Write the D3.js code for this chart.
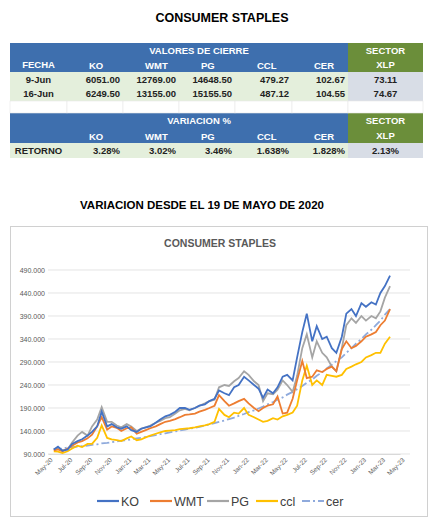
<!DOCTYPE html>
<html>
<head>
<meta charset="utf-8">
<script src="https://cdn.jsdelivr.net/npm/d3@7"></script>
<style>
  body { margin: 0; background: #fff; }
  text { font-family: "Liberation Sans", Arial, sans-serif; }
</style>
</head>
<body>
<div id="chart"></div>
<script>
// table data
const tableCols = ["KO", "WMT", "PG", "CCL", "CER"];
const closeRows = [
  { fecha: "9-Jun", vals: ["6051.00", "12769.00", "14648.50", "479.27", "102.67"], xlp: "73.11" },
  { fecha: "16-Jun", vals: ["6249.50", "13155.00", "15155.50", "487.12", "104.55"], xlp: "74.67" }
];
const retorno = ["3.28%", "3.02%", "3.46%", "1.638%", "1.828%"];
const retornoXlp = "2.13%";

// chart data (values in thousands)
const dates = [
  "2020-05-19", "2020-06-01", "2020-06-15", "2020-07-01", "2020-07-15", "2020-08-01", "2020-08-15",
  "2020-09-01", "2020-09-15", "2020-10-01", "2020-10-15", "2020-11-01", "2020-11-15", "2020-12-01", "2020-12-15",
  "2021-01-01", "2021-01-15", "2021-02-01", "2021-02-15", "2021-03-01", "2021-03-15", "2021-04-01", "2021-04-15",
  "2021-05-01", "2021-05-15", "2021-06-01", "2021-06-15", "2021-07-01", "2021-07-15", "2021-08-01", "2021-08-15",
  "2021-09-01", "2021-09-15", "2021-10-01", "2021-10-15", "2021-11-01", "2021-11-15", "2021-12-01", "2021-12-15",
  "2022-01-01", "2022-01-15", "2022-02-01", "2022-02-15", "2022-03-01", "2022-03-15", "2022-04-01", "2022-04-15",
  "2022-05-01", "2022-05-15", "2022-06-01", "2022-06-15", "2022-07-01", "2022-07-15", "2022-08-01", "2022-08-15",
  "2022-09-01", "2022-09-15", "2022-10-01", "2022-10-15", "2022-11-01", "2022-11-15", "2022-12-01", "2022-12-15",
  "2023-01-01", "2023-01-15", "2023-02-01", "2023-02-15", "2023-03-01", "2023-03-15", "2023-03-31"
];
const ko = [100,106,97,100,112,118,122,130,138,150,182,150,155,148,145,150,142,138,145,148,150,158,165,172,175,182,190,190,186,190,195,198,205,210,228,222,218,235,240,258,250,240,232,212,230,222,235,258,262,250,300,355,395,335,368,340,345,320,310,345,395,405,390,418,410,420,415,440,455,478];
const wmt = [98,100,96,102,108,115,118,124,132,150,170,143,150,147,140,146,148,134,138,142,146,150,155,160,162,166,170,175,176,178,182,186,190,195,218,205,195,200,205,210,200,190,183,190,195,198,215,178,180,210,250,292,255,258,272,268,275,280,270,318,335,320,325,335,345,350,355,370,380,405];
const pg = [100,102,98,100,115,130,138,130,150,165,192,160,160,152,148,155,150,140,145,148,152,158,162,168,170,178,185,188,185,190,195,200,205,208,235,240,238,248,255,270,262,248,240,205,222,220,230,250,240,225,260,320,350,300,335,310,300,280,270,320,370,385,375,390,380,390,385,400,430,455];
const ccl = [96,95,92,96,102,108,105,112,112,125,152,125,122,120,118,124,128,120,122,126,130,134,137,140,141,142,144,145,146,148,150,152,155,160,188,175,170,180,178,190,175,170,165,160,162,168,165,172,175,180,195,250,282,240,250,240,262,260,258,262,275,280,285,290,300,305,310,310,330,345];
const cer = [100,101,102,104,105,106,107,108,110,111,113,114,116,117,119,120,122,124,125,127,129,131,133,135,137,139,141,143,145,147,149,152,154,157,160,163,166,169,173,177,181,185,189,193,198,203,208,213,219,225,231,238,245,252,260,268,276,284,292,300,310,320,330,340,350,360,370,380,393,405];
const yTicks = [90, 140, 190, 240, 290, 340, 390, 440, 490];
const xTickLabels = ["May-20","Jul-20","Sep-20","Nov-20","Jan-21","Mar-21","May-21","Jul-21","Sep-21","Nov-21","Jan-22","Mar-22","May-22","Jul-22","Sep-22","Nov-22","Jan-23","Mar-23","May-23"];

const series = [
  { name: "KO", values: ko, color: "#4472c4", dash: null },
  { name: "WMT", values: wmt, color: "#ed7d31", dash: null },
  { name: "PG", values: pg, color: "#a5a5a5", dash: null },
  { name: "ccl", values: ccl, color: "#ffc000", dash: null },
  { name: "cer", values: cer, color: "#8faadc", dash: "8,3,2,3" }
];

const W = 440, H = 528;
const svg = d3.select("#chart").append("svg").attr("width", W).attr("height", H);

svg.append("text").attr("x", 222).attr("y", 22).attr("text-anchor", "middle")
  .style("font-size", "12.5px").style("font-weight", "bold").text("CONSUMER STAPLES");

// table
const colX = [10, 67, 123, 179, 235, 292, 348, 423];
const blue = "#3e6fae", green = "#6b8e3a", lightGreen = "#e4efdc", grayBlue = "#d8dde6";
const rowY = [43, 57, 72, 86, 101, 113, 128, 143, 158];
const tbl = svg.append("g");

function cell(r, c, fill) {
  tbl.append("rect").attr("x", colX[c]).attr("y", rowY[r])
    .attr("width", colX[c + 1] - colX[c]).attr("height", rowY[r + 1] - rowY[r]).attr("fill", fill);
}
function txt(r, c, s, color, anchor) {
  const x = anchor === "end" ? colX[c + 1] - 3 : (colX[c] + colX[c + 1]) / 2;
  tbl.append("text").attr("x", x).attr("y", (rowY[r] + rowY[r + 1]) / 2 + 3.5)
    .attr("text-anchor", anchor || "middle").attr("fill", color)
    .style("font-size", "9.5px").style("font-weight", "bold").text(s);
}
[0, 1, 5, 6].forEach(r => {
  for (let c = 0; c < 6; c++) cell(r, c, blue);
  cell(r, 6, green);
});
[2, 3, 7].forEach(r => {
  for (let c = 0; c < 6; c++) cell(r, c, lightGreen);
  cell(r, 6, grayBlue);
});
// empty row grid
for (let c = 0; c < 7; c++) {
  tbl.append("rect").attr("x", colX[c]).attr("y", rowY[4]).attr("width", colX[c + 1] - colX[c])
    .attr("height", rowY[5] - rowY[4]).attr("fill", "#fff").attr("stroke", "#e6e6e6").attr("stroke-width", 0.6);
}
tbl.append("text").attr("x", (colX[0] + colX[6]) / 2 + 20).attr("y", 53.5).attr("text-anchor", "middle")
  .attr("fill", "#fff").style("font-size", "9.5px").style("font-weight", "bold").text("VALORES DE CIERRE");
tbl.append("text").attr("x", (colX[0] + colX[6]) / 2 + 20).attr("y", 124).attr("text-anchor", "middle")
  .attr("fill", "#fff").style("font-size", "9.5px").style("font-weight", "bold").text("VARIACION %");
txt(0, 6, "SECTOR", "#fff"); txt(5, 6, "SECTOR", "#fff");
txt(1, 6, "XLP", "#fff"); txt(6, 6, "XLP", "#fff");
txt(1, 0, "FECHA", "#fff");
tableCols.forEach((k, i) => {
  tbl.append("text").attr("x", colX[i + 1] + 22).attr("y", 69).attr("fill", "#fff")
    .style("font-size", "9.5px").style("font-weight", "bold").text(k);
  tbl.append("text").attr("x", colX[i + 1] + 22).attr("y", 139.5).attr("fill", "#fff")
    .style("font-size", "9.5px").style("font-weight", "bold").text(k);
});
closeRows.forEach((row, ri) => {
  txt(2 + ri, 0, row.fecha, "#222");
  row.vals.forEach((v, i) => txt(2 + ri, i + 1, v, "#222", "end"));
  txt(2 + ri, 6, row.xlp, "#222");
});
txt(7, 0, "RETORNO", "#222");
retorno.forEach((v, i) => txt(7, i + 1, v, "#222", "end"));
txt(7, 6, retornoXlp, "#222");

svg.append("text").attr("x", 202).attr("y", 209).attr("text-anchor", "middle")
  .style("font-size", "11.5px").style("font-weight", "bold").text("VARIACION DESDE EL 19 DE MAYO DE 2020");

// chart box
svg.append("rect").attr("x", 10.5).attr("y", 226.5).attr("width", 417).attr("height", 290)
  .attr("fill", "#fff").attr("stroke", "#d0d0d0");
svg.append("text").attr("x", 220).attr("y", 247).attr("text-anchor", "middle").attr("fill", "#595959")
  .style("font-size", "10.5px").style("font-weight", "bold").text("CONSUMER STAPLES");

const parse = d3.timeParse("%Y-%m-%d");
const dts = dates.map(parse);
const x = d3.scaleTime().domain([parse("2020-05-01"), parse("2023-05-01")]).range([48, 400]);
const y = d3.scaleLinear().domain([90, 490]).range([454, 270]);

const g = svg.append("g");
g.selectAll(".grid").data(yTicks).enter().append("line")
  .attr("x1", 48).attr("x2", 410).attr("y1", d => y(d)).attr("y2", d => y(d))
  .attr("stroke", "#d9d9d9").attr("stroke-width", 0.7);

const yAxis = g.append("g").attr("transform", "translate(48,0)")
  .call(d3.axisLeft(y).tickValues(yTicks).tickSize(0).tickPadding(3).tickFormat(d => d + ".000"));
yAxis.select(".domain").remove();
yAxis.selectAll("text").attr("fill", "#595959").style("font-size", "7px");

const xTicks = xTickLabels.map(s => d3.timeParse("%b-%y")(s));
const xAxis = g.append("g").attr("transform", "translate(0,454)")
  .call(d3.axisBottom(x).tickValues(xTicks).tickSize(0).tickPadding(4).tickFormat(d3.timeFormat("%b-%y")));
xAxis.select(".domain").attr("stroke", "#d9d9d9");
xAxis.selectAll("text").attr("fill", "#595959").style("font-size", "6.5px")
  .attr("text-anchor", "end").attr("transform", "rotate(-45)").attr("dx", "-0.2em").attr("dy", "0.6em");

const line = d3.line().x((d, i) => x(dts[i])).y(d => y(d));
series.slice().reverse().forEach(s => {
  g.append("path").datum(s.values).attr("d", line).attr("fill", "none")
    .attr("stroke", s.color).attr("stroke-width", 1.8)
    .attr("stroke-dasharray", s.dash);
});

// legend
const leg = svg.append("g");
const legendPos = [97, 150, 207, 256, 302];
series.forEach((s, i) => {
  const lx = legendPos[i];
  leg.append("line").attr("x1", lx).attr("x2", lx + 22).attr("y1", 501).attr("y2", 501)
    .attr("stroke", s.color).attr("stroke-width", 2.2).attr("stroke-dasharray", s.dash);
  leg.append("text").attr("x", lx + 24).attr("y", 505.5).attr("fill", "#404040")
    .style("font-size", "12.5px").text(s.name);
});
</script>
</body>
</html>
